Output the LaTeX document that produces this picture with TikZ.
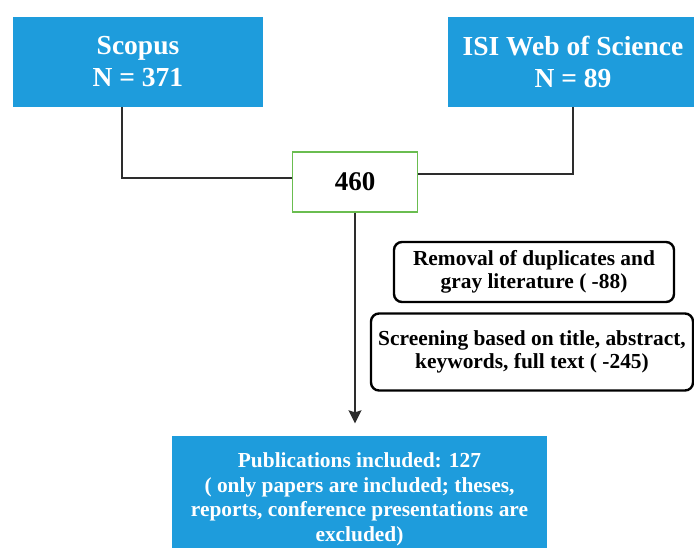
\documentclass[tikz,border=0pt]{standalone}
\usepackage{fontspec}
\setmainfont{Liberation Serif}
\usetikzlibrary{arrows.meta}
\definecolor{boxblue}{RGB}{30,156,220}
\definecolor{boxgreen}{RGB}{106,189,80}
\definecolor{linegray}{RGB}{45,45,45}
\tikzset{
  bluebox/.style={fill=boxblue, draw=none, text=white, align=center, inner sep=0pt,
    font=\fontsize{27.5}{32}\selectfont\bfseries},
  greenbox/.style={draw=boxgreen, line width=1.4pt, fill=white, align=center, inner sep=0pt,
    font=\fontsize{27}{32}\selectfont\bfseries},
  roundbox/.style={draw=black, line width=2.4pt, rounded corners=8pt, fill=white, align=center, inner sep=0pt,
    font=\fontsize{21.4}{23.5}\selectfont\bfseries},
  bottombox/.style={fill=boxblue, draw=none, text=white, align=center, inner sep=0pt,
    font=\fontsize{21.4}{24.5}\selectfont\bfseries},
  conn/.style={draw=linegray, line width=1.6pt},
}
\begin{document}
\begin{tikzpicture}[x=1pt,y=-1pt]
\useasboundingbox (0,0) rectangle (694,547);
\clip (0,0) rectangle (694,547);
\fill[white] (0,0) rectangle (694,547);
\node[bluebox, minimum width=250pt, minimum height=90pt] (scopus) at (138,62) {Scopus\\N = 371};
\node[bluebox, minimum width=250pt, minimum height=90pt] (isi) at (573,62) {ISI Web of Science\\N = 89};
\node[greenbox, minimum width=125pt, minimum height=60pt] (n460) at (355,182) {460};
\node[roundbox, minimum width=280pt, minimum height=60pt] (removal) at (534,272) {Removal of duplicates and\\gray literature ( -88)};
\node[roundbox, minimum width=322pt, minimum height=77pt] (screen) at (532,352) {Screening based on title, abstract,\\keywords, full text ( -245)};
\node[bottombox, minimum width=375pt, minimum height=128pt] (pub) at (359.5,499.5) {Publications included: 127\\( only papers are included; theses,\\reports, conference presentations are\\excluded)};
\coordinate (sc) at ([xshift=-16pt]scopus.south);
\draw[conn] (sc) |- ([yshift=4pt]n460.west);
\draw[conn] (isi.south) |- ([yshift=8pt]n460.east);
\coordinate (arrtip) at ([yshift=12pt]pub.north -| n460.south);
\draw[conn, -{Stealth[length=13pt,width=13pt,inset=2pt]}] (n460.south) -- (arrtip);
\end{tikzpicture}
\end{document}
